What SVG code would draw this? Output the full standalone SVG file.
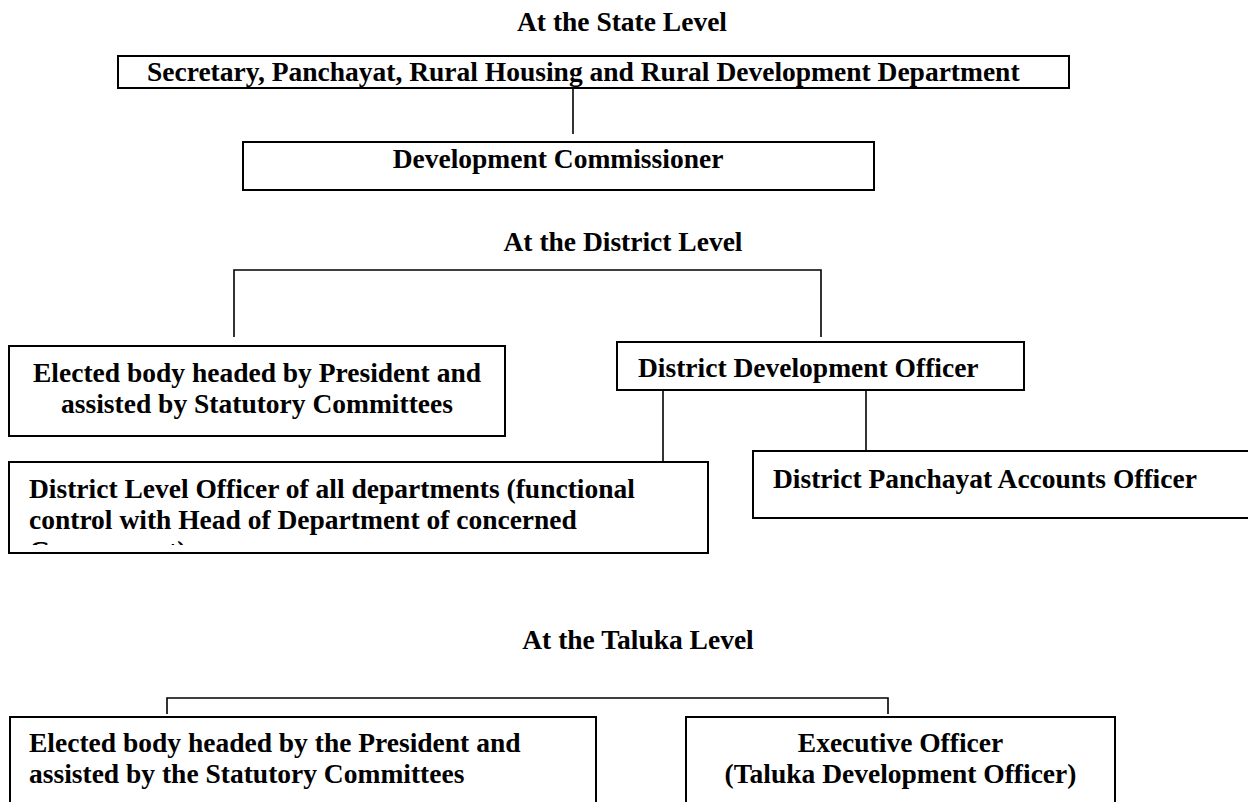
<svg xmlns="http://www.w3.org/2000/svg" width="1248" height="802" viewBox="0 0 1248 802">
  <style>
    text { font-family: "Liberation Serif", "Times New Roman", serif; font-weight: bold; font-size: 27.5px; fill: #000; }
    .mid { text-anchor: middle; }
    .box { fill: #fff; stroke: #000; stroke-width: 2; }
    .link { fill: none; stroke: #000; stroke-width: 1.6; }
  </style>
  <defs>
    <clipPath id="dloClip">
      <rect x="9" y="462" width="699" height="83"/>
    </clipPath>
  </defs>
  <rect width="1248" height="802" fill="#fff"/>

  <!-- level headings -->
  <g id="headings">
    <text class="mid" x="622" y="31">At the State Level</text>
    <text class="mid" x="623" y="251">At the District Level</text>
    <text class="mid" x="638" y="649">At the Taluka Level</text>
  </g>

  <!-- connectors -->
  <g id="connectors">
    <path class="link" d="M573,88 V134"/>
    <path class="link" d="M234,337 V270 H821 V337"/>
    <path class="link" d="M663,390 V461"/>
    <path class="link" d="M866,390 V450"/>
    <path class="link" d="M167,714 V698 H888 V714"/>
  </g>

  <!-- state level -->
  <g id="secretary">
    <rect class="box" x="118" y="56" width="951" height="32"/>
    <text x="147" y="81">Secretary, Panchayat, Rural Housing and Rural Development Department</text>
  </g>
  <g id="development-commissioner">
    <rect class="box" x="243" y="142" width="631" height="48"/>
    <text class="mid" x="558" y="168">Development Commissioner</text>
  </g>

  <!-- district level -->
  <g id="district-elected-body">
    <rect class="box" x="9" y="346" width="496" height="90"/>
    <text class="mid" x="257" y="382">Elected body headed by President and</text>
    <text class="mid" x="257" y="413">assisted by Statutory Committees</text>
  </g>
  <g id="district-development-officer">
    <rect class="box" x="617" y="342" width="407" height="48"/>
    <text x="638" y="377">District Development Officer</text>
  </g>
  <g id="district-level-officers">
    <rect class="box" x="9" y="462" width="699" height="91"/>
    <g clip-path="url(#dloClip)">
      <text x="29" y="498">District Level Officer of all departments (functional</text>
      <text x="29" y="529">control with Head of Department of concerned</text>
      <text x="29" y="560">Government)</text>
    </g>
  </g>
  <g id="district-accounts-officer">
    <rect class="box" x="753" y="451" width="500" height="67"/>
    <text x="773" y="488">District Panchayat Accounts Officer</text>
  </g>

  <!-- taluka level -->
  <g id="taluka-elected-body">
    <rect class="box" x="10" y="717" width="586" height="100"/>
    <text x="29" y="752">Elected body headed by the President and</text>
    <text x="29" y="783">assisted by the Statutory Committees</text>
  </g>
  <g id="executive-officer">
    <rect class="box" x="686" y="717" width="429" height="100"/>
    <text class="mid" x="900.5" y="752">Executive Officer</text>
    <text class="mid" x="900.5" y="783">(Taluka Development Officer)</text>
  </g>
</svg>
